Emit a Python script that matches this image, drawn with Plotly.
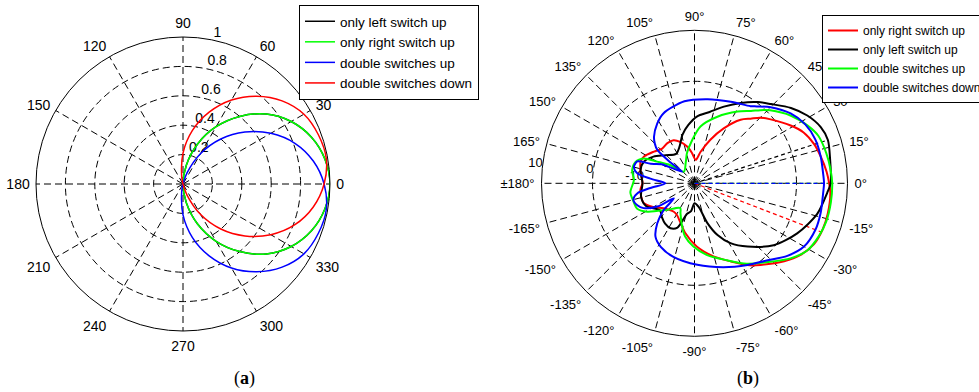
import plotly.graph_objects as go

FONT = "Liberation Sans, Arial, sans-serif"

# ---------------- Panel (a): normalised patterns ----------------
a_names = ["only left switch up", "only right switch up",
           "double switches up", "double switches down"]
a_colors = ["#000000", "#00ff00", "#0000ff", "#ff0000"]

a_theta_left = [-90, -80, -70, -60, -50, -40, -30, -20, -10, 0,
                10, 20, 30, 40, 50, 60, 70, 80, 90]
a_r_left = [0, 0.13, 0.29, 0.45, 0.60, 0.74, 0.85, 0.93, 0.98, 1.0,
            0.98, 0.93, 0.85, 0.74, 0.60, 0.45, 0.29, 0.13, 0]

a_theta_right = [-90, -80, -70, -60, -50, -40, -30, -20, -10, 0,
                 10, 20, 30, 40, 50, 60, 70, 80, 90]
a_r_right = [0, 0.13, 0.29, 0.45, 0.60, 0.74, 0.85, 0.93, 0.98, 1.0,
             0.98, 0.93, 0.85, 0.74, 0.60, 0.45, 0.29, 0.13, 0]

a_theta_up = [-104, -100, -90, -80, -70, -60, -50, -40, -30, -20,
              -10, 0, 10, 20, 30, 40, 50, 60, 70, 76]
a_r_up = [0, 0.05, 0.21, 0.37, 0.52, 0.66, 0.78, 0.88, 0.95, 0.98,
          0.99, 0.96, 0.90, 0.81, 0.69, 0.55, 0.40, 0.24, 0.08, 0]

a_theta_down = [-76, -70, -60, -50, -40, -30, -20, -10, 0, 10,
                20, 30, 40, 50, 60, 70, 80, 90, 100, 104]
a_r_down = [0, 0.08, 0.24, 0.40, 0.55, 0.69, 0.81, 0.90, 0.96, 0.99,
            0.98, 0.95, 0.88, 0.78, 0.66, 0.52, 0.37, 0.21, 0.05, 0]

a_rticks = [0.2, 0.4, 0.6, 0.8, 1]
a_angle_ticks = list(range(0, 360, 30))

# ---------------- Panel (b): gain patterns in dB ----------------
b_names = ["only right switch up", "only left switch up",
           "double switches up", "double switches down"]
b_colors = ["#ff0000", "#000000", "#00ff00", "#0000ff"]

b_theta_right = [0, 5, 12, 18, 25, 31, 40, 45, 49, 54, 62, 70, 79, 87, 95,
                 101, 109, 116, 124, 133, 142, 152, 158, 168, 180, -173,
                 -159, -150, -141, -126, -119, -109, -100, -88, -75, -65,
                 -56, -51, -41, -34, -27, -20, -13, -4, 0]
b_db_right = [6.4, 6.0, 5.3, 4.7, 3.6, 2.0, -0.5, -1.8, -3.2, -4.6, -7.8,
              -10.9, -13.7, -15.4, -14.0, -12.7, -11.4, -10.6, -10.5, -10.7,
              -9.9, -8.8, -8.6, -9.2, -9.8, -9.3, -9.3, -10.7, -12.2, -13.1,
              -12.9, -11.7, -10.0, -7.6, -5.1, -3.1, -0.6, 0.6, 3.3, 5.1,
              6.3, 6.7, 6.8, 6.7, 6.4]

b_theta_left = [0, 10, 18, 24, 31, 38, 46, 52, 60, 69, 78, 88, 96, 104, 112,
                122, 136, 147, 157, 166, 180, -166, -155, -142, -134, -126,
                -118, -111, -104, -97, -90, -80, -72, -66, -59, -50, -38,
                -26, -14, -4, 0]
b_db_left = [6.7, 7.0, 7.5, 7.1, 5.8, 4.0, 1.6, 0.2, -1.8, -3.9, -5.7, -6.9,
             -8.5, -10.2, -12.2, -13.2, -12.1, -10.4, -9.2, -9.1, -9.8,
             -9.2, -9.5, -11.4, -10.8, -10.2, -10.0, -10.7, -13.8, -14.5,
             -16.1, -15.3, -11.8, -8.9, -6.3, -3.8, -0.3, 2.4, 4.8, 6.1, 6.7]

b_theta_up = [0, 6, 13, 21, 27, 35, 44, 48, 52, 59, 71, 84, 93, 104, 113,
              132, 143, 150, 154, 160, 168, 177, -172, -164, -156, -149,
              -136, -120, -115, -106, -100, -91, -80, -67, -57, -46, -38,
              -31, -23, -16, -8, 0]
b_db_up = [7.0, 6.8, 6.5, 6.0, 4.9, 3.1, 0.6, -0.7, -2.0, -3.6, -6.2, -8.8,
           -11.5, -13.9, -15.6, -16.9, -14.1, -11.5, -8.9, -7.7, -7.5, -8.1,
           -7.3, -7.5, -7.7, -9.2, -12.5, -14.4, -13.5, -11.2, -9.4, -7.6,
           -5.7, -3.6, -1.2, 1.4, 3.9, 5.7, 6.5, 6.9, 7.0, 7.0]

b_theta_down = [0, 4, 12, 20, 28, 36, 45, 51, 54, 66, 81, 97, 114, 122, 131,
                135, 138, 139, 137, 145, 150, 156, 159, 165, 170, 174, 180,
                -174, -170, -165, -159, -154, -148, -144, -139, -133, -126,
                -118, -106, -88, -71, -57, -47, -38, -30, -21, -13, -4, 0]
b_db_down = [5.4, 5.3, 5.3, 5.2, 4.6, 3.3, 1.1, -0.6, -1.3, -2.5, -3.3, -3.8,
             -5.0, -6.2, -7.9, -9.0, -10.2, -13.8, -16.7, -15.0, -12.5,
             -10.6, -8.0, -7.7, -8.6, -11.3, -14.3, -11.3, -8.6, -7.6, -8.0,
             -8.9, -11.4, -15.0, -12.0, -9.3, -7.0, -5.9, -5.0, -4.0, -2.6,
             -0.9, 0.7, 3.1, 4.8, 5.4, 5.4, 5.3, 5.4]

# main-lobe direction (deg) and peak gain (dB) of each pattern
b_lobe_dir = [-21, 18, 0, 0]
b_lobe_peak = [6.7, 7.5, 7.0, 5.4]

b_range = [-20, 10]
b_rticks = [-10, 0, 10]
b_angle_ticks = list(range(0, 360, 15))


def deg_label(v):
    if v == 180:
        return "\u00b1180\u00b0"
    return f"{v if v < 180 else v - 360}\u00b0"


fig = go.Figure()

# ---- panel (a) traces ----
fig.add_trace(go.Scatterpolar(
    r=a_rticks, theta=[78] * len(a_rticks),
    text=[f"{v:g}" for v in a_rticks], mode="text",
    textposition="top right", textfont=dict(family=FONT, size=14, color="black"),
    showlegend=False, hoverinfo="skip", subplot="polar"))

for name, color, th, rr in zip(
        a_names, a_colors,
        [a_theta_left, a_theta_right, a_theta_up, a_theta_down],
        [a_r_left, a_r_right, a_r_up, a_r_down]):
    fig.add_trace(go.Scatterpolar(
        r=rr, theta=th, mode="lines", name=name,
        line=dict(color=color, width=1.5, shape="spline", smoothing=1),
        subplot="polar", legend="legend"))

# ---- panel (b) traces ----
fig.add_trace(go.Scatterpolar(
    r=b_rticks, theta=[172.5] * len(b_rticks),
    text=[f"{v:g}" for v in b_rticks], mode="text",
    textposition="middle left", textfont=dict(family=FONT, size=13, color="black"),
    showlegend=False, hoverinfo="skip", subplot="polar2"))

for color, ang, peak in zip(b_colors, b_lobe_dir, b_lobe_peak):
    fig.add_trace(go.Scatterpolar(
        r=[b_range[0], peak], theta=[ang, ang], mode="lines",
        line=dict(color=color, width=1.2, dash="4px,3px"),
        showlegend=False, hoverinfo="skip", subplot="polar2"))

for name, color, th, rr in zip(
        b_names, b_colors,
        [b_theta_right, b_theta_left, b_theta_up, b_theta_down],
        [b_db_right, b_db_left, b_db_up, b_db_down]):
    fig.add_trace(go.Scatterpolar(
        r=rr, theta=th, mode="lines", name=name,
        line=dict(color=color, width=2, shape="spline", smoothing=0.8),
        subplot="polar2", legend="legend2"))

grid_dash = "7px,4px"
common_angular = dict(
    rotation=0, direction="counterclockwise", showline=True,
    linecolor="black", linewidth=1, showgrid=True, gridcolor="black",
    gridwidth=1, griddash=grid_dash,
    ticks="outside", tickcolor="rgba(0,0,0,0)",
)

fig.update_layout(
    width=979, height=392,
    margin=dict(l=0, r=0, t=0, b=0, autoexpand=False),
    paper_bgcolor="white",
    font=dict(family=FONT, size=13, color="black"),
    polar=dict(
        domain=dict(x=[36 / 979, 330 / 979], y=[61 / 392, 355 / 392]),
        bgcolor="white",
        radialaxis=dict(range=[0, 1], tickvals=a_rticks[:-1], showticklabels=False,
                        showline=False, ticks="", showgrid=True, gridcolor="black",
                        gridwidth=1, griddash=grid_dash),
        angularaxis=dict(tickvals=a_angle_ticks,
                         ticktext=[str(v) for v in a_angle_ticks],
                         tickfont=dict(family=FONT, size=14, color="black"),
                         ticklen=3, **common_angular),
    ),
    polar2=dict(
        domain=dict(x=[541.5 / 979, 847.5 / 979], y=[55.7 / 392, 361.7 / 392]),
        bgcolor="white",
        radialaxis=dict(range=b_range, tickvals=[0], showticklabels=False,
                        showline=False, ticks="", showgrid=True, gridcolor="black",
                        gridwidth=1, griddash=grid_dash),
        angularaxis=dict(tickvals=b_angle_ticks,
                         ticktext=[deg_label(v) for v in b_angle_ticks],
                         tickfont=dict(family=FONT, size=13, color="black"),
                         ticklen=4, **common_angular),
    ),
    legend=dict(x=479 / 979, y=1 - 5 / 392, xanchor="right", yanchor="top",
                bgcolor="white", bordercolor="black", borderwidth=1,
                font=dict(family=FONT, size=13.5, color="black"),
                itemwidth=30, tracegroupgap=0),
    legend2=dict(x=822 / 979, y=1 - 15 / 392, xanchor="left", yanchor="top",
                 bgcolor="white", bordercolor="black", borderwidth=1,
                 font=dict(family=FONT, size=12, color="black"),
                 itemwidth=30, tracegroupgap=0),
    annotations=[
        dict(text="(<b>a</b>)", x=245 / 979, y=1 - 378 / 392, xref="paper",
             yref="paper", xanchor="center", yanchor="middle", showarrow=False,
             font=dict(family="Liberation Serif, serif", size=18, color="black")),
        dict(text="(<b>b</b>)", x=748 / 979, y=1 - 378 / 392, xref="paper",
             yref="paper", xanchor="center", yanchor="middle", showarrow=False,
             font=dict(family="Liberation Serif, serif", size=18, color="black")),
    ],
)

fig.write_html("out.html")
